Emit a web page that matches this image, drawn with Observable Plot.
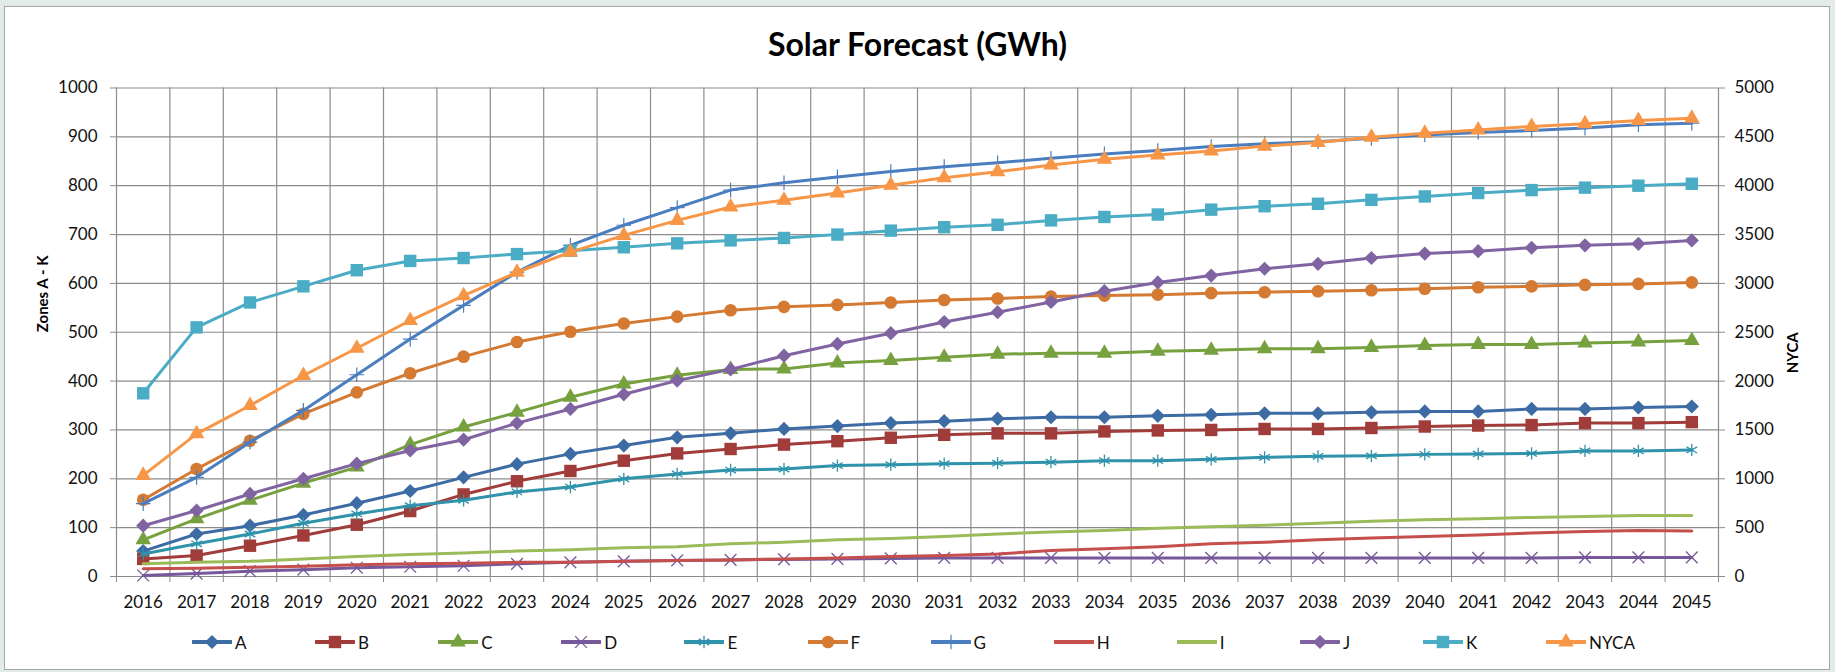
<!DOCTYPE html>
<html>
<head>
<meta charset="utf-8">
<script src="https://cdn.jsdelivr.net/npm/d3@7"></script>
<script src="https://cdn.jsdelivr.net/npm/@observablehq/plot@0.6"></script>
<style>
  html, body { margin: 0; padding: 0; }
  body { width: 1835px; height: 672px; background: #e3eaea; overflow: hidden; position: relative;
         font-family: Lato, "Open Sans", "DejaVu Sans", sans-serif; color: #111; }
  #frame { position: absolute; left: 4px; top: 6px; width: 1824px; height: 662px; background: #fff; border: 1px solid #a6a6a6; }
  #title { position: absolute; left: 0; top: 25px; width: 1835px; text-align: center; font-weight: bold; font-size: 32px; line-height: 38px; color: #000; }
  #chart { position: absolute; left: 0; top: 60px; }
  #legend { position: absolute; left: 0; top: 630px; width: 1835px; height: 24px; }
  .item { position: absolute; top: 0; height: 24px; display: flex; align-items: center; font-size: 17px; color: #111; white-space: nowrap; }
  .item svg { display: block; margin-right: 3px; }
</style>
</head>
<body>
<div id="frame"></div>
<div id="title">Solar Forecast (GWh)</div>
<div id="chart"></div>
<div id="legend"></div>
<script>
// ---------- data ----------
const years = [2016, 2017, 2018, 2019, 2020, 2021, 2022, 2023, 2024, 2025,
               2026, 2027, 2028, 2029, 2030, 2031, 2032, 2033, 2034, 2035,
               2036, 2037, 2038, 2039, 2040, 2041, 2042, 2043, 2044, 2045];
const leftTicks = [0, 100, 200, 300, 400, 500, 600, 700, 800, 900, 1000];
const rightTicks = [0, 500, 1000, 1500, 2000, 2500, 3000, 3500, 4000, 4500, 5000];
const seriesNames = ["A", "B", "C", "D", "E", "F", "G", "H", "I", "J", "K", "NYCA"];

const A = [52, 87, 104, 126, 150, 175, 203, 230, 251, 268, 285, 293, 302, 308, 314, 318, 323, 326, 326, 329, 331, 334, 334, 336, 338, 338, 343, 343, 346, 348];
const B = [36, 43, 63, 84, 106, 134, 168, 195, 216, 237, 252, 261, 270, 277, 284, 290, 293, 293, 297, 299, 300, 302, 302, 304, 307, 309, 310, 314, 314, 316];
const C = [75, 118, 156, 191, 224, 270, 306, 336, 367, 394, 412, 424, 425, 437, 442, 449, 455, 457, 457, 461, 463, 466, 466, 469, 473, 475, 475, 478, 480, 483];
const D = [2, 6, 11, 14, 18, 20, 22, 26, 29, 31, 33, 34, 35, 36, 37, 38, 38, 38, 38, 38, 38, 38, 38, 38, 38, 38, 38, 39, 39, 39];
const E = [46, 67, 87, 109, 128, 145, 156, 173, 183, 200, 210, 218, 220, 227, 229, 231, 232, 234, 237, 237, 240, 244, 246, 247, 250, 251, 252, 257, 257, 259];
const F = [157, 220, 278, 333, 377, 416, 450, 480, 501, 518, 532, 545, 552, 556, 561, 566, 569, 573, 575, 577, 580, 582, 584, 586, 589, 592, 594, 597, 599, 602];
const G = [149, 203, 275, 340, 413, 486, 555, 623, 678, 719, 755, 791, 806, 818, 829, 839, 847, 856, 865, 872, 880, 886, 890, 897, 904, 909, 913, 918, 925, 928];
const H = [16, 17, 19, 21, 24, 26, 27, 29, 29, 31, 33, 34, 36, 38, 41, 43, 46, 53, 57, 61, 67, 70, 75, 79, 82, 85, 89, 92, 94, 93];
const I = [26, 29, 31, 36, 41, 45, 48, 52, 55, 59, 61, 67, 70, 75, 78, 82, 87, 91, 94, 99, 102, 105, 109, 113, 116, 118, 121, 123, 125, 125];
const J = [104, 135, 169, 200, 231, 258, 280, 314, 343, 373, 401, 424, 452, 476, 498, 521, 541, 562, 584, 602, 616, 630, 640, 652, 661, 666, 673, 678, 681, 688];
const K = [375, 510, 561, 594, 627, 646, 652, 660, 667, 674, 682, 688, 693, 700, 708, 715, 720, 729, 736, 741, 751, 758, 763, 771, 778, 785, 791, 796, 800, 804];
const NYCA = [1035, 1460, 1750, 2057, 2336, 2620, 2874, 3114, 3320, 3491, 3645, 3782, 3851, 3926, 4005, 4081, 4143, 4211, 4270, 4314, 4355, 4405, 4441, 4496, 4537, 4571, 4606, 4633, 4667, 4691];

const seriesValues = {A, B, C, D, E, F, G, H, I, J, K, NYCA};
const secondary = new Set(["NYCA"]);

// ---------- styles ----------
const styles = {
  A:    {color: "#3d6ba3", symbol: "diamond2", r: 6.4, filled: true},
  B:    {color: "#a03c39", symbol: "square",   r: 7.0, filled: true},
  C:    {color: "#77a03f", symbol: "triangle", r: 5.8, filled: true},
  D:    {color: "#76589b", symbol: "times",    r: 5.4, filled: false, sw: 1.3},
  E:    {color: "#2f93ab", symbol: "asterisk", r: 5.8, filled: false, sw: 1.3},
  F:    {color: "#d47a32", symbol: "circle",   r: 6.3, filled: true},
  G:    {color: "#4a7ebf", symbol: "plus",     r: 4.8, filled: false, sw: 1.2},
  H:    {color: "#c44f4c", symbol: null},
  I:    {color: "#9bbb59", symbol: null},
  J:    {color: "#8064a2", symbol: "diamond2", r: 6.4, filled: true},
  K:    {color: "#4bacc6", symbol: "square",   r: 7.0, filled: true},
  NYCA: {color: "#f79646", symbol: "triangle", r: 5.8, filled: true}
};

const leftMax = leftTicks[leftTicks.length - 1];
const rightMax = rightTicks[rightTicks.length - 1];
const ratio = leftMax / rightMax;

// category boundaries for Excel-like gridlines between categories
const bounds = years.map(y => y - 0.5).concat([years[years.length - 1] + 0.5]);

const gridColor = "#8c8c8c";
const marks = [
  Plot.ruleY(leftTicks, {stroke: gridColor, strokeWidth: 1.2}),
  Plot.ruleX(bounds, {stroke: gridColor, strokeWidth: 1.2}),
  Plot.axisY({anchor: "left", ticks: leftTicks, tickFormat: d => String(d), tickSize: 6, tickPadding: 13, stroke: gridColor, fill: "#111", label: null, fontSize: 17}),
  Plot.axisY({anchor: "right", ticks: rightTicks.map(t => t * ratio), tickFormat: d => String(Math.round(d / ratio)), tickSize: 6, tickPadding: 10, stroke: gridColor, fill: "#111", label: null, fontSize: 17}),
  Plot.axisX({ticks: bounds, tickSize: 6, tickFormat: () => "", stroke: gridColor, label: null}),
  Plot.axisX({ticks: years, tickSize: 0, tickPadding: 19, tickFormat: d => String(d), fill: "#111", label: null, fontSize: 17}),
  Plot.text(["Zones A - K"], {frameAnchor: "left", dx: -73, rotate: -90, text: d => d, fontWeight: "bold", fontSize: 15, fill: "#000"}),
  Plot.text(["NYCA"], {frameAnchor: "right", dx: 75, rotate: -90, text: d => d, fontWeight: "bold", fontSize: 15, fill: "#000"})
];

for (const name of seriesNames) {
  const st = styles[name];
  const k = secondary.has(name) ? ratio : 1;
  const rows = years.map((yr, i) => ({year: yr, v: seriesValues[name][i] * k}));
  marks.push(Plot.line(rows, {x: "year", y: "v", stroke: st.color, strokeWidth: 3, strokeLinejoin: "round", strokeLinecap: "round"}));
  if (st.symbol) {
    if (st.filled) {
      marks.push(Plot.dot(rows, {x: "year", y: "v", symbol: () => st.symbol, r: st.r, fill: st.color, stroke: "none"}));
    } else {
      marks.push(Plot.dot(rows, {x: "year", y: "v", symbol: () => st.symbol, r: st.r, fill: "none", stroke: st.color, strokeWidth: st.sw}));
    }
  }
}

const chart = Plot.plot({
  width: 1835,
  height: 560,
  marginLeft: 116,
  marginRight: 117,
  marginTop: 27.5,
  marginBottom: 44,
  style: {fontFamily: 'Lato, "Open Sans", "DejaVu Sans", sans-serif', fontSize: "17px", color: "#111", background: "none", overflow: "visible"},
  x: {type: "linear", domain: [bounds[0], bounds[bounds.length - 1]], axis: null},
  y: {domain: [0, leftMax], axis: null},
  symbol: {type: "identity"},
  marks
});
document.getElementById("chart").appendChild(chart);

// ---------- legend ----------
const symbolTypes = {
  circle: d3.symbolCircle, square: d3.symbolSquare, triangle: d3.symbolTriangle,
  diamond2: d3.symbolDiamond2, times: d3.symbolTimes, asterisk: d3.symbolAsterisk, plus: d3.symbolPlus
};
const legend = d3.select("#legend");
const itemStart = 192, itemStep = 123.1;
seriesNames.forEach((name, i) => {
  const st = styles[name];
  const item = legend.append("div").attr("class", "item").style("left", (itemStart + i * itemStep) + "px");
  const svg = item.append("svg").attr("width", 40).attr("height", 24);
  svg.append("line").attr("x1", 1).attr("x2", 39).attr("y1", 12).attr("y2", 12)
     .attr("stroke", st.color).attr("stroke-width", 4).attr("stroke-linecap", "round");
  if (st.symbol) {
    const path = d3.symbol(symbolTypes[st.symbol], st.r * st.r * Math.PI)();
    svg.append("path").attr("d", path).attr("transform", "translate(20,12)")
       .attr("fill", st.filled ? st.color : "none")
       .attr("stroke", st.filled ? "none" : st.color)
       .attr("stroke-width", st.sw || 0);
  }
  item.append("span").text(name);
});
</script>
</body>
</html>
